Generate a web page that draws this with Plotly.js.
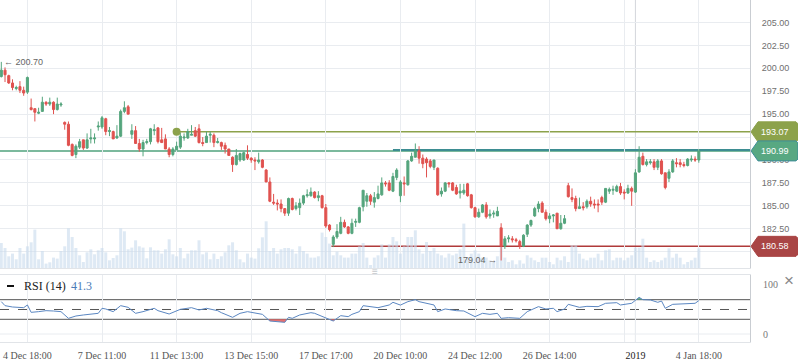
<!DOCTYPE html>
<html><head><meta charset="utf-8">
<script src="https://cdn.plot.ly/plotly-3.0.1.min.js"></script>
<style>html,body{margin:0;padding:0;background:#fff}#chart{width:798px;height:363px}</style>
</head><body><div id="chart"></div>
<script>
// ---- data ----
const openP = [199.1,199.8,199.2,198.4,197.8,198.0,197.6,197.4,195.7,195.6,
195.1,195.3,196.3,196.1,196.3,195.5,196.0,194.1,193.9,191.7,
190.6,191.4,192.2,191.3,192.3,192.3,193.6,193.6,194.5,193.1,
193.1,192.4,192.6,195.3,195.8,192.8,193.2,191.8,191.2,191.9,
192.0,193.2,193.5,192.2,192.3,191.2,190.6,191.1,191.4,192.4,
192.4,192.7,193.2,193.4,191.9,191.9,192.7,192.7,191.9,191.9,
191.6,191.2,190.3,189.5,190.0,190.0,190.6,190.2,190.0,189.8,
190.0,188.9,187.6,185.4,185.3,185.2,184.7,184.2,185.8,184.7,
184.8,185.3,186.1,186.1,186.5,185.9,186.1,184.8,182.9,180.8,
181.6,182.0,183.2,182.7,182.0,183.2,183.2,184.9,185.5,186.1,
185.4,185.8,186.2,187.5,187.5,186.6,188.1,186.1,187.5,187.3,
189.9,190.3,191.0,190.2,190.1,189.9,189.2,189.1,186.3,186.6,
187.5,187.5,187.0,186.4,186.4,187.4,186.2,184.8,183.8,184.3,
185.1,183.9,184.1,183.9,182.6,180.6,181.4,181.4,181.3,181.1,
180.6,181.9,182.9,183.9,184.7,185.3,184.3,183.6,183.9,184.2,
182.5,183.1,187.2,185.9,185.8,184.7,184.9,184.9,185.5,185.2,
185.2,185.9,185.4,186.6,186.7,186.6,187.1,186.5,186.4,186.9,
186.5,188.7,190.4,189.5,189.7,189.8,189.2,189.9,188.6,188.0,
188.7,189.7,189.7,189.5,189.4,190.0,190.1,190.0];
const highP = [200.7,200.1,199.3,198.8,198.1,198.6,198.0,199.1,196.7,195.6,
195.7,196.9,196.4,196.8,196.4,196.8,196.3,194.2,194.2,191.8,
191.7,192.3,192.2,192.9,193.4,192.9,194.2,194.8,194.6,193.6,
193.2,193.8,195.5,196.4,196.0,193.9,193.7,192.3,192.2,192.3,
193.5,193.9,193.6,193.5,192.8,191.4,191.4,192.0,193.0,192.9,
193.4,193.8,193.6,193.9,192.5,193.1,193.1,192.9,192.4,192.0,
191.9,191.2,190.4,191.2,190.8,190.9,191.6,190.3,190.3,190.8,
190.1,189.0,188.1,186.3,185.7,185.7,184.7,185.9,185.9,185.4,
185.8,186.2,186.8,187.0,186.6,186.6,186.2,185.2,183.0,181.8,
183.0,183.8,183.5,182.8,183.6,183.6,184.9,186.7,186.4,186.3,
186.5,187.2,188.1,187.7,187.8,188.6,189.1,187.8,188.2,190.0,
190.8,191.8,191.5,190.6,190.3,190.1,190.0,189.2,187.0,187.6,
187.6,187.6,187.3,187.4,187.4,187.5,186.3,184.9,184.7,185.2,
185.4,184.6,184.5,184.9,183.1,181.7,181.8,181.7,181.5,181.3,
181.9,183.0,183.5,184.9,185.5,185.5,184.6,184.2,184.1,184.2,
184.0,184.0,187.5,186.9,186.1,185.9,185.4,185.7,186.0,185.7,
185.7,186.1,186.9,187.0,187.2,187.3,187.5,186.8,187.3,187.1,
189.0,191.5,190.8,190.1,190.1,190.1,190.1,190.1,188.6,189.0,
190.1,190.2,190.1,189.8,190.2,190.5,190.4,191.2];
const lowP = [199.0,198.5,198.3,197.6,197.6,197.3,197.0,197.2,195.4,194.2,
195.0,195.3,195.9,195.9,195.0,195.4,195.8,193.3,191.5,190.4,
190.2,191.2,191.1,191.2,191.8,191.8,193.2,193.4,192.7,192.6,
192.3,192.3,192.5,195.1,195.0,192.3,191.8,190.9,190.4,191.7,
191.7,192.7,191.8,191.9,191.2,190.3,190.4,191.1,191.2,192.1,
192.3,192.7,192.5,191.8,191.5,191.9,191.9,191.4,191.8,191.1,
190.7,190.5,188.7,189.4,189.8,189.9,190.0,189.7,188.9,189.6,
189.1,187.6,185.4,185.1,184.5,184.3,183.9,183.9,184.5,184.5,
184.0,185.1,185.9,186.0,185.8,185.5,184.7,182.6,182.2,180.5,
181.4,181.9,182.6,181.9,181.9,182.7,183.1,184.4,184.9,185.1,
184.8,185.7,186.1,187.1,186.6,186.5,187.8,185.4,186.1,187.2,
189.8,190.3,189.6,189.1,188.1,189.1,188.9,186.1,186.0,186.5,
187.0,186.6,186.2,185.8,186.2,186.0,184.7,183.7,183.7,184.2,
183.6,183.6,183.7,183.9,179.04,180.3,181.0,181.0,181.0,180.3,
180.5,181.6,182.7,183.8,184.3,184.3,183.4,183.1,183.2,182.5,
182.4,183.0,185.9,185.4,184.4,184.7,184.5,184.7,184.9,184.7,
184.3,185.1,185.3,186.3,186.2,186.5,186.2,185.7,186.3,185.0,
186.4,188.6,189.4,189.3,189.5,188.9,188.9,188.4,186.8,187.6,
188.6,189.2,189.2,189.2,189.3,189.8,189.8,189.7];
const closeP = [199.8,199.3,198.4,197.9,197.9,197.6,197.3,199.0,195.5,195.2,
195.2,196.3,196.1,196.3,195.5,196.1,196.1,193.9,191.6,190.5,
191.5,192.0,191.3,192.2,192.4,192.4,193.7,194.6,193.1,193.2,
192.3,192.6,195.3,195.7,195.0,193.2,191.8,191.2,191.9,192.0,
193.4,193.3,192.0,191.9,191.2,190.6,191.2,191.5,192.6,192.5,
193.1,192.8,192.6,191.9,191.8,192.6,192.8,191.9,192.0,191.5,
191.2,190.5,189.5,190.5,190.7,190.8,190.2,190.0,189.9,190.0,
189.2,187.6,185.5,185.3,185.2,184.7,184.2,185.8,184.6,185.0,
185.3,186.1,186.2,186.5,185.9,186.1,184.8,182.8,182.4,181.6,
182.2,183.2,182.7,182.0,183.1,183.3,184.8,186.7,186.1,185.5,
185.9,186.3,187.5,187.4,186.7,188.2,188.9,187.6,187.4,189.9,
190.4,191.0,190.2,189.6,189.7,189.3,190.0,186.2,186.6,187.5,
187.4,186.7,186.3,186.6,186.7,186.1,184.8,183.8,184.3,185.1,
183.8,184.1,184.2,184.4,180.6,181.4,181.5,181.3,181.2,180.6,
181.8,182.9,183.4,184.7,185.2,184.3,183.6,183.9,184.0,182.5,
183.1,183.6,186.0,185.7,184.7,184.9,184.8,185.5,185.2,185.1,
185.1,185.4,186.9,186.8,186.8,187.1,186.4,186.4,186.9,186.6,
188.6,190.3,189.5,189.8,189.8,189.2,189.9,188.5,187.0,188.7,
189.9,189.6,189.5,189.4,190.1,190.1,190.0,190.99];
const volume = [250,200,117,144,87,200,144,217,257,384,
87,170,44,57,104,94,170,217,397,310,
200,127,60,157,187,137,177,200,157,77,
100,127,397,367,187,204,277,217,204,97,
207,177,177,144,187,287,137,117,200,97,
144,177,177,277,137,157,87,144,90,117,
157,227,257,177,87,57,144,104,94,197,
307,467,170,200,144,187,200,200,187,144,
217,170,144,104,104,117,354,310,244,127,
164,127,104,104,144,144,217,250,104,30,
104,127,237,104,237,310,267,144,217,310,
310,377,187,144,260,170,200,144,127,104,
144,127,144,187,444,104,144,177,144,104,
104,77,60,117,210,104,60,77,37,77,
44,127,103,77,60,103,103,60,37,103,
77,117,60,227,227,143,93,77,103,103,
143,77,177,187,77,103,103,77,103,127,
203,203,293,103,60,77,60,77,103,197,
103,143,103,37,60,77,103,197];
const rsiBar = [1,2,4,7,8,9,11,13,15,17,19,21,23,25,27,28,29,31,33,35,37,39,42,43,46,49,52,54,56,59,60,63,65,67,69,71,73,75,77,78,79,81,84,85,88,90,92,94,95,97,98,100,102,105,106,108,110,112,113,117,118,120,123,125,128,130,132,134,135,137,140,142,145,147,149,150,152,153,156,158,161,163,166,167,169,170,172,173,175,177,178,179,181,183,185,187,188];
const rsiVal = [66.0,57.8,55.1,53.7,59.2,44.2,45.6,47.6,46.9,45.6,32.0,36.7,38.8,40.1,42.2,52.4,51.0,45.6,57.8,54.4,42.2,45.6,52.4,47.6,40.8,50.3,53.7,49.0,52.4,47.6,43.5,34.0,42.2,45.6,43.5,40.1,26.5,25.1,23.8,34.0,32.0,38.8,43.5,42.2,32.0,26.5,37.4,35.4,40.1,45.6,57.8,55.1,53.7,59.2,64.6,59.0,66.0,70.0,66.0,59.2,45.6,51.0,47.6,46.9,35.4,42.2,40.1,42.2,32.0,33.3,32.0,45.6,55.8,51.0,52.4,45.6,51.0,60.5,54.4,56.4,55.8,62.6,63.9,59.2,61.2,62.6,74.8,70.0,69.4,64.6,67.3,52.4,60.5,61.2,62.6,62.6,68.0];
const gridBars = [8,28,48,68,88,108,128,148,168,188];
const tickBars = [8,28,48,68,88,108,128,148,168,171,188];
const tickLabels = ['4 Dec 18:00','7 Dec 11:00','11 Dec 13:00','13 Dec 15:00','17 Dec 17:00','20 Dec 10:00','24 Dec 12:00','26 Dec 14:00','','<span style="color:#222">2019</span>','4 Jan 18:00'];
const yearBar = 171;
const priceTicks = [180,182.5,185,187.5,190,192.5,195,197.5,200,202.5,205];
// 180.00 and 192.50 sit under the price tags in the reference
const priceTickLabels = ['','182.50','185.00','187.50','190.00','','195.00','197.50','200.00','202.50','205.00'];
const rsiTicks = [0,100];
const levels = {last:190.99, resistance:191.08, olive:193.07, support:180.58, high:200.70, low:179.04};
const rsiLegend = {name:'RSI (14)', value:'41.3'};

// ---- build ----
const bars = openP.map((_, i) => i + 1);
const G = '#55a57d', R = '#e0524f';
const GRID = '#e9ecf0';

function clipSeries(xs, ys, thr, below){
  const X=[], Y=[];
  for (let k=0;k<xs.length;k++){
    if (k>0){
      const y0=ys[k-1], y1=ys[k];
      if ((y0-thr)*(y1-thr)<0){
        const t=(thr-y0)/(y1-y0);
        X.push(xs[k-1]+t*(xs[k]-xs[k-1])); Y.push(thr);
      }
    }
    X.push(xs[k]); Y.push(below?Math.min(ys[k],thr):Math.max(ys[k],thr));
  }
  return {X,Y};
}
const lowFill = clipSeries(rsiBar, rsiVal, 30, true);
const highFill = clipSeries(rsiBar, rsiVal, 70, false);

const traces = [
  {type:'bar', x:bars, y:volume, xaxis:'x', yaxis:'y', marker:{color:'rgba(200,219,236,0.6)', line:{width:0}}, hoverinfo:'skip'},
  {type:'candlestick', x:bars, open:openP, high:highP, low:lowP, close:closeP, xaxis:'x', yaxis:'y3',
   increasing:{line:{color:G, width:1}, fillcolor:G}, decreasing:{line:{color:R, width:1}, fillcolor:R},
   whiskerwidth:0, hoverinfo:'skip'},
  {type:'scatter', mode:'markers', x:[48], y:[levels.olive], xaxis:'x', yaxis:'y3', marker:{color:'#8ca24b', size:8}, hoverinfo:'skip'},
  {type:'scatter', mode:'lines', x:lowFill.X, y:lowFill.X.map(()=>30), xaxis:'x2', yaxis:'y2', line:{width:0}, hoverinfo:'skip'},
  {type:'scatter', mode:'lines', x:lowFill.X, y:lowFill.Y, xaxis:'x2', yaxis:'y2', line:{width:0}, fill:'tonexty', fillcolor:'rgba(226,96,96,0.9)', hoverinfo:'skip'},
  {type:'scatter', mode:'lines', x:highFill.X, y:highFill.X.map(()=>70), xaxis:'x2', yaxis:'y2', line:{width:0}, hoverinfo:'skip'},
  {type:'scatter', mode:'lines', x:highFill.X, y:highFill.Y, xaxis:'x2', yaxis:'y2', line:{width:0}, fill:'tonexty', fillcolor:'rgba(85,165,125,0.9)', hoverinfo:'skip'},
  {type:'scatter', mode:'lines', x:rsiBar, y:rsiVal, xaxis:'x2', yaxis:'y2', line:{color:'#5b87c2', width:1}, hoverinfo:'skip'}
];

const pxX = v => v/750;
const pxY = v => (342 - v)/342;

function tag(val, fill, border){
  return {type:'path', xref:'paper', yref:'y3', xsizemode:'pixel', ysizemode:'pixel', xanchor:1, yanchor:val,
    path:'M 1,0 L 8,10 L 46,10 L 48,8 L 48,-8 L 46,-10 L 8,-10 Z', fillcolor:fill, line:{color:border, width:1}, layer:'above'};
}
const shapes = [
  {type:'line', xref:'x', yref:'paper', x0:yearBar, x1:yearBar, y0:0.2164, y1:1, line:{color:'#d3d6db', width:1}, layer:'below'},
  {type:'line', xref:'x2', yref:'y2', x0:yearBar, x1:yearBar, y0:-16.3, y1:120.4, line:{color:'#d3d6db', width:1}, layer:'below'},
  {type:'line', xref:'paper', yref:'y3', x0:0, x1:1, y0:levels.last, y1:levels.last, line:{color:'#4fa27c', width:1.5}, layer:'below'},
  {type:'line', xref:'x', yref:'y3', x0:106, x1:201.72, y0:levels.resistance, y1:levels.resistance, line:{color:'#3d8d92', width:2}, layer:'below'},
  {type:'line', xref:'x', yref:'y3', x0:48, x1:201.72, y0:levels.olive, y1:levels.olive, line:{color:'#8ca24b', width:1.5}, layer:'below'},
  {type:'line', xref:'x', yref:'y3', x0:89.5, x1:201.72, y0:levels.support, y1:levels.support, line:{color:'#b03a3a', width:1.5}, layer:'below'},
  {type:'line', xref:'paper', yref:'y2', x0:0, x1:1, y0:0, y1:0, line:{color:GRID, width:1}, layer:'below'},
  {type:'line', xref:'paper', yref:'y2', x0:0, x1:1, y0:70, y1:70, line:{color:'#555', width:1}, layer:'below'},
  {type:'line', xref:'paper', yref:'y2', x0:0, x1:1, y0:30, y1:30, line:{color:'#555', width:1}, layer:'below'},
  {type:'line', xref:'paper', yref:'y2', x0:0, x1:1, y0:50, y1:50, line:{color:'#555', width:1, dash:'dash'}, layer:'below'},
  tag(levels.olive, '#8ca24b', '#8ca24b'),
  tag(levels.last, '#58a882', '#3d8d98'),
  tag(levels.support, '#a94545', '#a94545'),
  {type:'line', xref:'paper', yref:'paper', x0:pxX(7), x1:pxX(14), y0:pxY(286), y1:pxY(286), line:{color:'#111', width:2}, layer:'above'}
];

const sans = 'Liberation Sans, Arial, sans-serif';
const serif = 'Liberation Serif, Times New Roman, serif';
function tagText(val, txt){
  return {xref:'paper', yref:'y3', x:1, y:val, xanchor:'center', yanchor:'middle', xshift:25, text:txt, showarrow:false,
    font:{family:sans, size:9, color:'#fff'}};
}
const annotations = [
  tagText(levels.olive, levels.olive.toFixed(2)),
  tagText(levels.last, levels.last.toFixed(2)),
  tagText(levels.support, levels.support.toFixed(2)),
  {xref:'x', yref:'y3', x:1, y:levels.high, xanchor:'left', yanchor:'middle', xshift:1, text:'← ' + levels.high.toFixed(2), showarrow:false, font:{family:sans, size:9, color:'#666'}},
  {xref:'x', yref:'y3', x:135, y:levels.low, xanchor:'right', yanchor:'middle', xshift:-2, text:levels.low.toFixed(2) + ' →', showarrow:false, font:{family:sans, size:9, color:'#666'}},
  {xref:'paper', yref:'paper', x:pxX(22), y:pxY(286), xanchor:'left', yanchor:'middle', text:rsiLegend.name, showarrow:false, font:{family:serif, size:12, color:'#222'}},
  {xref:'paper', yref:'paper', x:pxX(69), y:pxY(286), xanchor:'left', yanchor:'middle', text:rsiLegend.value, showarrow:false, font:{family:serif, size:12, color:'#4a7bb7'}},
  {xref:'paper', yref:'paper', x:pxX(375), y:pxY(271), xanchor:'center', yanchor:'middle', text:'≡', showarrow:false, font:{family:sans, size:10, color:'#c4c8cc'}},
  {xref:'paper', yref:'paper', x:pxX(789), y:pxY(280), xanchor:'center', yanchor:'middle', text:'×', showarrow:false, font:{family:sans, size:17, color:'#888'}}
];

const layout = {
  width:798, height:363,
  margin:{l:0, r:48, t:0, b:21, pad:0},
  paper_bgcolor:'#fff', plot_bgcolor:'#fff',
  showlegend:false, hovermode:false, dragmode:false,
  boxgap:0.45, boxgroupgap:0, bargap:0.2,
  xaxis:{domain:[0,1], anchor:'y', range:[0.651,201.72], tickvals:gridBars, showticklabels:false, ticks:'',
    showgrid:true, gridcolor:GRID, gridwidth:1, zeroline:false, showline:true, linecolor:'#e1e4e8', rangeslider:{visible:false}, fixedrange:true},
  yaxis:{domain:[0.2164,1], anchor:'x', range:[0,2680], visible:false, showgrid:false, zeroline:false, fixedrange:true},
  yaxis3:{overlaying:'y', anchor:'x', side:'right', range:[178.22,207.45], tickvals:priceTicks, ticktext:priceTickLabels,
    showgrid:true, gridcolor:GRID, gridwidth:1, zeroline:false, showline:true, linecolor:'#c9cdd2',
    ticks:'outside', ticklen:9, tickcolor:'rgba(0,0,0,0)', tickfont:{family:sans, size:9, color:'#6f6f6f'}, fixedrange:true},
  xaxis2:{domain:[0,1], anchor:'y2', range:[0.651,201.72], tickvals:tickBars, ticktext:tickLabels,
    showgrid:true, gridcolor:GRID, gridwidth:1, zeroline:false, showline:true, mirror:true, linecolor:'#e1e4e8',
    ticks:'outside', ticklen:4, tickcolor:'rgba(0,0,0,0)', tickfont:{family:serif, size:10, color:'#555'}, fixedrange:true},
  yaxis2:{domain:[0,0.196], anchor:'x2', side:'right', range:[-16.3,120.4], tickvals:rsiTicks,
    showgrid:false, zeroline:false, showline:true, linecolor:'#c9cdd2',
    ticks:'outside', ticklen:10, tickcolor:'rgba(0,0,0,0)', tickfont:{family:serif, size:10, color:'#777'}, fixedrange:true},
  shapes:shapes,
  annotations:annotations
};

Plotly.newPlot('chart', traces, layout, {staticPlot:true, displayModeBar:false});
</script>
</body></html>
